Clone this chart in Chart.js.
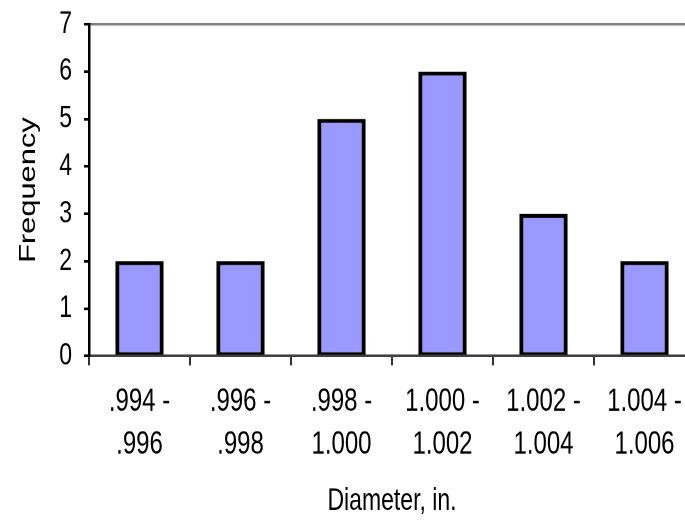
<!DOCTYPE html>
<html>
<head>
<meta charset="utf-8">
<script src="https://cdn.jsdelivr.net/npm/chart.js@4/dist/chart.umd.min.js"></script>
<style>
  html, body { margin: 0; padding: 0; background: #fff; overflow: hidden; width: 685px; height: 520px; }
  #wrap { width: 700px; height: 388px; transform: scaleY(1.34); transform-origin: 0 0; }
  canvas { display: block; }
</style>
</head>
<body>
<div id="wrap"><canvas id="hist" width="700" height="388"></canvas></div>
<script>
// Diameter classes (inches) and how many parts fell in each
const binLow = ['.994', '.996', '.998', '1.000', '1.002', '1.004'];
const binHigh = ['.996', '.998', '1.000', '1.002', '1.004', '1.006'];
const frequency = [2, 2, 5, 6, 3, 2];
const yTickValues = [0, 1, 2, 3, 4, 5, 6, 7];

const labels = binLow.map((lo, i) => [lo + ' -', binHigh[i]]);
const FONT = "'Liberation Sans', Arial, sans-serif";

new Chart(document.getElementById('hist'), {
  type: 'bar',
  data: {
    labels: labels,
    datasets: [{
      data: frequency,
      backgroundColor: '#9999ff',
      borderColor: '#000000',
      borderWidth: { left: 4, right: 4, top: 3, bottom: 2 },
      borderSkipped: false,
      categoryPercentage: 1.0,
      barPercentage: 0.478
    }]
  },
  options: {
    responsive: false,
    devicePixelRatio: 2,
    animation: false,
    layout: { padding: { left: 0, top: 18, right: 5, bottom: 0 } },
    plugins: { legend: { display: false }, tooltip: { enabled: false } },
    scales: {
      x: {
        offset: true,
        grid: {
          offset: true,
          drawOnChartArea: false,
          drawTicks: true,
          tickLength: 7,
          tickWidth: 2,
          tickColor: '#333333'
        },
        border: { display: true, color: '#404040', width: 2 },
        ticks: {
          color: '#000000',
          padding: 11,
          maxRotation: 0,
          autoSkip: false,
          font: { family: FONT, size: 24, lineHeight: 1.333 }
        },
        title: {
          display: true,
          text: 'Diameter, in.',
          color: '#000000',
          font: { family: FONT, size: 23 },
          padding: { top: 0, bottom: 0 }
        },
        afterFit: (scale) => { scale.height = 122.3; }
      },
      y: {
        min: 0,
        max: 7,
        afterBuildTicks: (scale) => { scale.ticks = yTickValues.map(v => ({ value: v })); },
        grid: {
          drawOnChartArea: true,
          color: (ctx) => (ctx.tick && ctx.tick.value === 7 ? '#808080' : 'rgba(0,0,0,0)'),
          lineWidth: 2,
          drawTicks: true,
          tickLength: 5,
          tickWidth: 2,
          tickColor: '#000000'
        },
        border: { display: true, color: '#000000', width: 2.5 },
        ticks: {
          color: '#000000',
          padding: 12,
          font: { family: FONT, size: 23 }
        },
        title: {
          display: true,
          text: 'Frequency',
          color: '#000000',
          font: { family: FONT, size: 23 },
          padding: { top: 15, bottom: 0 }
        },
        afterFit: (scale) => {
          scale.width = 89;
          scale.paddingTop = 0;
          scale.paddingBottom = 0;
        }
      }
    }
  }
});
</script>
</body>
</html>
